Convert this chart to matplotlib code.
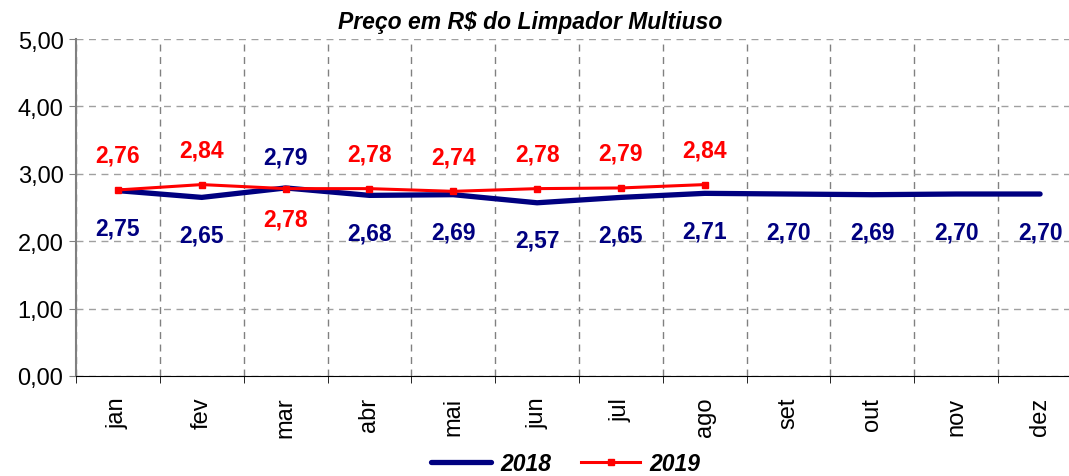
import matplotlib
matplotlib.use('Agg')
from matplotlib import pyplot as plt

plt.rcParams['font.family'] = ['Liberation Sans', 'DejaVu Sans']

# Monthly prices of the cleaner, 2018 and 2019 (2019 up to August)
months = ['jan', 'fev', 'mar', 'abr', 'mai', 'jun', 'jul', 'ago', 'set', 'out', 'nov', 'dez']
prices_2018 = [2.75, 2.65, 2.79, 2.68, 2.69, 2.57, 2.65, 2.71, 2.70, 2.69, 2.70, 2.70]
prices_2019 = [2.76, 2.84, 2.78, 2.78, 2.74, 2.78, 2.79, 2.84]
y_ticks = [0, 1, 2, 3, 4, 5]


def fmt(v):
    return f'{v:.2f}'.replace('.', ',')


fig = plt.figure(figsize=(10.69, 4.77), dpi=100)
# axes runs past the right edge of the picture, like the original
ax = fig.add_axes([76 / 1069, 100 / 477, 1006 / 1069, 337 / 477])

x18 = list(range(len(prices_2018)))
x19 = list(range(len(prices_2019)))
ax.plot(x18, prices_2018, color='#000080', lw=3.8, solid_capstyle='round', label='2018', zorder=3)
ax.plot(x19, prices_2019, color='#ff0000', lw=2.2, marker='s', ms=5, label='2019', zorder=4)

# data labels: 2019 above, 2018 below, swapped in march
for i, v in enumerate(prices_2018):
    above = months[i] == 'mar'
    ax.annotate(fmt(v), (i, v), xytext=(0, 22 if above else -27), textcoords='offset points',
                ha='center', va='center', color='#000080', fontsize=16.5, fontweight='bold')
for i, v in enumerate(prices_2019):
    above = months[i] != 'mar'
    ax.annotate(fmt(v), (i, v), xytext=(0, 25 if above else -22), textcoords='offset points',
                ha='center', va='center', color='#ff0000', fontsize=16.5, fontweight='bold')

ax.set_xlim(-0.5, 11.5)
ax.set_ylim(0, 5)
ax.set_yticks(y_ticks)
ax.set_yticklabels([fmt(v) for v in y_ticks], fontsize=17)
ax.set_xticks(x18)
ax.set_xticklabels(months, rotation=90, fontsize=17)
ax.set_xticks([i + 0.5 for i in range(-1, 12)], minor=True)
ax.tick_params(axis='x', which='major', length=0, pad=15)
ax.tick_params(axis='x', which='minor', length=5, color='black')
ax.tick_params(axis='y', length=5, color='#808080', pad=4)

ax.grid(True, axis='y', which='major', ls=(0, (5, 4)), color='#a0a0a0', lw=1)
ax.grid(True, axis='x', which='minor', ls=(0, (5, 4)), color='#808080', lw=1)
ax.set_axisbelow(True)

for s in ['top', 'right']:
    ax.spines[s].set_visible(False)
ax.spines['left'].set_color('#808080')
ax.spines['left'].set_linewidth(1.5)
ax.spines['bottom'].set_color('black')

fig.text(530 / 1069, 1 - 22 / 477, 'Preço em R$ do Limpador Multiuso', ha='center', va='center',
         fontsize=16.5, fontweight='bold', fontstyle='italic')

fig.legend(loc='center', bbox_to_anchor=(566 / 1069, 1 - 465 / 477), ncol=2, frameon=False,
           prop={'size': 16.5, 'weight': 'bold', 'style': 'italic'}, handlelength=2.6,
           columnspacing=1.3, handletextpad=0.4)

plt.savefig('out.png', dpi=100)
